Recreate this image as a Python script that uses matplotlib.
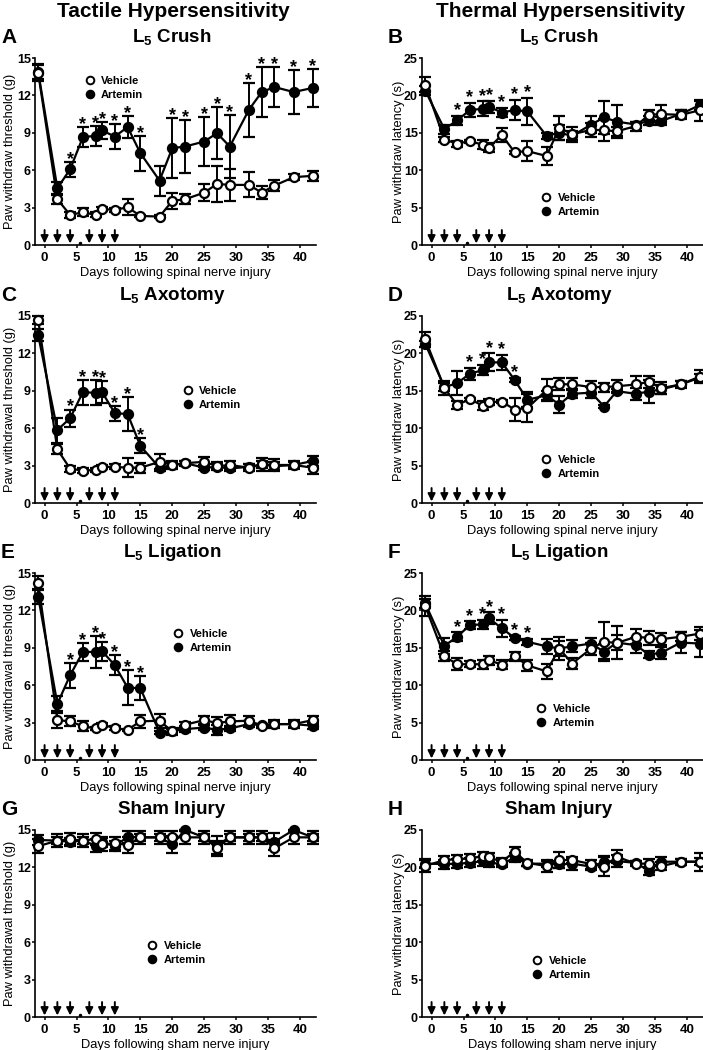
import matplotlib

matplotlib.use("Agg")
import matplotlib.pyplot as plt
from matplotlib.lines import Line2D

plt.rcParams["font.family"] = ["Liberation Sans", "DejaVu Sans"]
plt.rcParams["mathtext.fontset"] = "custom"
plt.rcParams["mathtext.rm"] = "Liberation Sans:bold"
plt.rcParams["mathtext.it"] = "Liberation Sans:bold"
plt.rcParams["mathtext.bf"] = "Liberation Sans:bold"

W, H = 703, 1050

DAYS = [-1, 2, 4, 6, 8, 9, 11, 13, 15, 18, 20, 22, 25, 27, 29, 32, 34, 36, 39, 42]
ARROW_DAYS = [0, 2, 4, 7, 9, 11]
DOT_DAY = 5.5

# A - tactile, L5 crush
A_VEH = [13.8, 3.67, 2.41, 2.63, 2.41, 2.89, 2.81, 3.03, 2.33, 2.28, 3.54, 3.67, 4.2, 4.9, 4.82, 4.82, 4.2, 4.77, 5.44, 5.55]
A_VEH_SEM = [0.65, 0.4, 0.25, 0.3, 0.2, 0.15, 0.15, 0.65, 0.1, 0.1, 0.65, 0.4, 0.7, 1.45, 1.3, 1.0, 0.5, 0.45, 0.25, 0.4]
A_ART = [13.9, 4.55, 6.08, 8.65, 8.76, 9.19, 8.7, 9.46, 7.37, 5.17, 7.77, 7.9, 8.3, 8.97, 7.9, 10.85, 12.27, 12.67, 12.27, 12.6]
A_ART_SEM = [0.6, 0.5, 0.6, 0.8, 0.8, 0.7, 1.0, 0.85, 1.4, 1.2, 2.4, 2.1, 2.0, 2.1, 2.5, 2.15, 2.0, 1.6, 1.8, 1.5]
A_STARS = [4, 6, 8, 9, 11, 13, 15, 20, 22, 25, 27, 29, 32, 34, 36, 39, 42]

# B - thermal, L5 crush
B_VEH = [21.45, 14.1, 13.55, 13.9, 13.4, 13.0, 14.7, 12.4, 12.55, 11.9, 15.7, 14.8, 15.4, 15.35, 15.2, 15.9, 17.4, 17.5, 17.4, 18.0]
B_VEH_SEM = [1.0, 0.3, 0.4, 0.2, 0.6, 0.6, 0.9, 0.2, 1.3, 1.2, 1.6, 1.0, 0.9, 1.5, 0.6, 0.6, 0.7, 1.2, 0.6, 1.4]
B_ART = [20.65, 15.5, 16.65, 18.05, 18.2, 18.5, 17.7, 18.05, 17.85, 14.6, 15.0, 14.6, 16.1, 17.05, 16.5, 16.1, 16.6, 16.6, 17.5, 18.7]
B_ART_SEM = [0.6, 0.6, 0.6, 0.9, 1.0, 0.8, 0.6, 1.4, 1.8, 0.4, 1.0, 0.6, 1.1, 2.2, 2.2, 0.4, 0.6, 0.5, 0.5, 0.6]
B_STARS = [4, 6, 8, 9, 11, 13, 15]

# C - tactile, L5 axotomy
C_VEH = [14.68, 4.3, 2.75, 2.6, 2.65, 2.9, 2.9, 2.83, 2.83, 3.3, 3.05, 3.2, 3.3, 2.95, 3.05, 2.83, 3.1, 3.05, 3.05, 2.83]
C_VEH_SEM = [0.3, 0.4, 0.25, 0.2, 0.15, 0.15, 0.2, 0.75, 0.4, 0.6, 0.3, 0.2, 0.4, 0.3, 0.3, 0.3, 0.5, 0.45, 0.3, 0.5]
C_ART = [13.47, 5.85, 6.8, 8.9, 8.83, 8.9, 7.2, 7.14, 4.58, 2.83, 3.05, 3.2, 2.83, 2.9, 2.77, 2.9, 3.1, 2.95, 3.05, 3.37]
C_ART_SEM = [0.5, 1.0, 0.7, 1.0, 1.0, 0.9, 0.6, 1.35, 0.6, 0.3, 0.2, 0.15, 0.2, 0.2, 0.2, 0.2, 0.3, 0.3, 0.2, 0.4]
C_STARS = [4, 6, 8, 9, 11, 13, 15]

# D - thermal, L5 axotomy
D_VEH = [21.9, 15.4, 13.1, 13.9, 13.0, 13.5, 13.55, 12.5, 12.7, 15.1, 15.9, 15.85, 15.5, 15.5, 15.6, 15.85, 16.2, 15.35, 15.85, 16.9]
D_VEH_SEM = [1.0, 0.9, 0.5, 0.2, 0.6, 0.4, 0.2, 1.6, 1.9, 1.5, 0.8, 0.8, 0.8, 0.6, 0.8, 1.1, 0.8, 0.8, 0.5, 0.9]
D_ART = [21.3, 15.5, 16.0, 17.3, 17.75, 18.8, 18.8, 16.45, 13.8, 14.4, 13.15, 14.6, 14.75, 12.9, 14.95, 14.6, 14.9, 15.2, 15.85, 16.75]
D_ART_SEM = [0.4, 0.5, 1.6, 0.8, 0.7, 1.2, 1.0, 0.3, 1.0, 0.6, 1.1, 0.6, 0.7, 0.2, 0.3, 0.8, 1.5, 0.6, 0.4, 0.5]
D_STARS = [6, 8, 9, 11, 13]

# E - tactile, L5 ligation
E_VEH = [14.2, 3.2, 3.1, 2.7, 2.53, 2.83, 2.56, 2.42, 3.1, 3.15, 2.29, 2.83, 3.2, 2.96, 3.1, 3.15, 2.75, 2.88, 2.88, 3.2]
E_VEH_SEM = [0.55, 0.6, 0.4, 0.4, 0.15, 0.15, 0.15, 0.1, 0.5, 0.55, 0.3, 0.2, 0.3, 0.5, 0.5, 0.4, 0.15, 0.35, 0.3, 0.3]
E_ART = [13.1, 4.5, 6.8, 8.67, 8.67, 8.73, 7.6, 5.8, 5.76, 2.2, 2.34, 2.48, 2.6, 2.42, 2.53, 2.88, 2.8, 2.88, 2.88, 2.75]
E_ART_SEM = [0.6, 0.6, 1.0, 0.7, 1.3, 0.75, 0.8, 1.4, 0.95, 0.1, 0.15, 0.25, 0.2, 0.4, 0.2, 0.25, 0.1, 0.2, 0.2, 0.3]
E_STARS = [4, 6, 8, 9, 11, 13, 15]

# F - thermal, L5 ligation
F_VEH = [20.6, 13.87, 12.8, 12.8, 12.8, 13.33, 12.75, 13.87, 12.65, 11.85, 14.9, 12.9, 14.9, 15.8, 15.65, 16.47, 16.33, 16.16, 16.47, 16.9]
F_VEH_SEM = [1.3, 0.7, 0.8, 0.4, 0.6, 0.6, 0.6, 0.6, 0.7, 1.0, 1.5, 0.7, 0.8, 2.6, 2.2, 1.0, 0.9, 0.8, 0.6, 0.9]
F_ART = [20.96, 15.26, 16.47, 18.04, 18.13, 18.94, 17.6, 16.33, 15.8, 15.2, 14.9, 15.2, 15.57, 14.45, 15.7, 15.35, 14.1, 14.35, 15.7, 15.57]
F_ART_SEM = [0.6, 1.1, 0.6, 0.5, 0.6, 0.8, 1.1, 0.3, 0.4, 1.0, 1.0, 0.8, 0.8, 1.0, 1.0, 1.0, 0.5, 0.8, 1.4, 1.8]
F_STARS = [4, 6, 8, 9, 11, 13, 15]

# G - tactile, sham
G_VEH = [13.7, 14.15, 14.25, 14.15, 14.28, 13.85, 13.93, 13.8, 14.41, 14.41, 14.41, 14.41, 14.41, 13.53, 14.41, 14.41, 14.41, 13.53, 14.41, 14.41]
G_VEH_SEM = [0.55, 0.5, 0.5, 0.5, 0.5, 0.5, 0.5, 0.65, 0.5, 0.5, 0.5, 0.5, 0.5, 0.6, 0.5, 0.5, 0.5, 0.6, 0.5, 0.5]
G_ART = [14.2, 14.15, 14.06, 14.15, 13.75, 14.0, 13.7, 14.45, 14.41, 14.41, 13.85, 15.0, 14.41, 13.8, 14.41, 14.41, 14.41, 14.06, 15.0, 14.41]
G_ART_SEM = [0.4, 0.3, 0.3, 0.3, 0.5, 0.4, 0.4, 0.5, 0.3, 0.3, 0.7, 0.0, 0.3, 0.7, 0.3, 0.3, 0.3, 0.7, 0.0, 0.3]
G_STARS = []

# H - thermal, sham
H_VEH = [20.2, 20.98, 21.1, 21.2, 21.5, 21.34, 20.76, 22.1, 20.6, 20.18, 20.98, 20.98, 20.45, 20.1, 21.43, 20.5, 20.5, 20.18, 20.76, 20.76]
H_VEH_SEM = [0.8, 0.6, 0.6, 0.6, 0.6, 0.6, 0.5, 0.6, 0.4, 0.8, 1.1, 0.4, 0.6, 1.3, 0.9, 0.3, 0.6, 0.5, 0.4, 1.2]
H_ART = [20.5, 20.45, 20.5, 20.6, 20.85, 20.7, 20.4, 21.34, 20.5, 20.5, 20.4, 20.5, 20.1, 20.76, 20.85, 20.6, 19.55, 20.76, 20.76, 20.76]
H_ART_SEM = [0.6, 0.6, 0.6, 0.6, 0.6, 0.6, 0.4, 0.6, 0.3, 0.4, 0.5, 0.8, 0.4, 0.7, 0.8, 0.2, 0.5, 0.6, 0.4, 0.5]
H_STARS = []

SUBTITLES = ["L$_5$ Crush", "L$_5$ Axotomy", "L$_5$ Ligation", "Sham Injury"]
LEFT_YLABELS = ["Paw withdraw threshold (g)", "Paw withdrawal threshold (g)",
                "Paw withdrawal threshold (g)", "Paw withdrawal threshold (g)"]
RIGHT_YLABEL = "Paw withdraw latency (s)"
XLABELS = ["Days following spinal nerve injury"] * 3 + ["Days following sham nerve injury"]

# legend anchor (marker centre of first entry, axes fraction)
LEG_POS = {
    "A": (0.196, 0.866), "B": (0.445, 0.24),
    "C": (0.545, 0.588), "D": (0.445, 0.219),
    "E": (0.512, 0.663), "F": (0.427, 0.262),
    "G": (0.42, 0.369), "H": (0.413, 0.289),
}

PANELS = [
    ("A", A_VEH, A_VEH_SEM, A_ART, A_ART_SEM, A_STARS),
    ("B", B_VEH, B_VEH_SEM, B_ART, B_ART_SEM, B_STARS),
    ("C", C_VEH, C_VEH_SEM, C_ART, C_ART_SEM, C_STARS),
    ("D", D_VEH, D_VEH_SEM, D_ART, D_ART_SEM, D_STARS),
    ("E", E_VEH, E_VEH_SEM, E_ART, E_ART_SEM, E_STARS),
    ("F", F_VEH, F_VEH_SEM, F_ART, F_ART_SEM, F_STARS),
    ("G", G_VEH, G_VEH_SEM, G_ART, G_ART_SEM, G_STARS),
    ("H", H_VEH, H_VEH_SEM, H_ART, H_ART_SEM, H_STARS),
]

ROW_TOPS = [58, 316, 573, 830]
AX_H = 187
COL_LEFT = [35, 422]
AX_W = 281


def fx(x):
    return x / W


def fy(y):
    return 1 - y / H


def draw_series(ax, mean, sem, face):
    cont = ax.errorbar(DAYS, mean, yerr=sem, fmt="-o", color="black", mfc=face, mec="black",
                       ms=6.5, mew=1.6, lw=1.6, elinewidth=1.4, capsize=4, capthick=1.4,
                       zorder=4 if face == "white" else 3)
    for art in cont.get_children():
        art.set_clip_on(False)


def draw_panel(ax, letter, veh, veh_sem, art, art_sem, stars, col, row):
    right = col == 1
    ymax, ystep = (25, 5) if right else (15, 3)
    draw_series(ax, art, art_sem, "black")
    draw_series(ax, veh, veh_sem, "white")

    star_off = 0.5 if right else -1.5
    for d in stars:
        i = DAYS.index(d)
        top = max(art[i] + art_sem[i], veh[i] + veh_sem[i])
        ax.annotate("*", xy=(d, top), xytext=(0, star_off), textcoords="offset points",
                    ha="center", va="baseline", fontsize=13, fontweight="bold")

    for d in ARROW_DAYS:
        ax.annotate("", xy=(d, 0.008), xytext=(d, 0.08),
                    xycoords=("data", "axes fraction"), textcoords=("data", "axes fraction"),
                    arrowprops=dict(arrowstyle="-|>,head_length=0.45,head_width=0.22",
                                    color="black", lw=1.4, shrinkA=0, shrinkB=0))
    ax.plot([DOT_DAY], [0.012], "o", color="black", ms=1.5, transform=ax.get_xaxis_transform())

    ax.set_xlim(-1.5, 42.5)
    ax.set_ylim(0, ymax)
    ax.set_xticks(range(0, 41, 5))
    ax.set_yticks(range(0, ymax + 1, ystep))
    ax.spines["top"].set_visible(False)
    ax.spines["right"].set_visible(False)
    ax.spines["left"].set_linewidth(1.2)
    ax.spines["bottom"].set_linewidth(1.2)
    ax.tick_params(direction="out", length=2.5, width=1.1, labelsize=9)
    ax.tick_params(axis="y", pad=0.5)
    ax.tick_params(axis="x", pad=2.5, labelsize=9.5)
    for lab in ax.get_xticklabels() + ax.get_yticklabels():
        lab.set_fontweight("bold")
    ax.set_xlabel(XLABELS[row], fontsize=9.3, labelpad=2)
    ax.set_ylabel(RIGHT_YLABEL if right else LEFT_YLABELS[row], fontsize=9.3)
    ax.yaxis.set_label_coords(-0.062 if right else -0.066, 0.5)

    handles = [
        Line2D([], [], ls="none", marker="o", mfc="white", mec="black", mew=1.4, ms=5.5),
        Line2D([], [], ls="none", marker="o", mfc="black", mec="black", mew=1.4, ms=5.5),
    ]
    lx, ly = LEG_POS[letter]
    leg = ax.legend(handles, ["Vehicle", "Artemin"], loc="upper left",
                    bbox_to_anchor=(lx - 5 / AX_W, ly + 7 / AX_H), frameon=False,
                    prop={"weight": "bold", "size": 8}, handlelength=0.8, handletextpad=0.6,
                    labelspacing=0.35, borderpad=0, borderaxespad=0)
    leg.set_zorder(5)


def main():
    fig = plt.figure(figsize=(W / 100, H / 100), dpi=100)

    fig.text(fx(173), fy(17), "Tactile Hypersensitivity", ha="center", va="baseline",
             fontsize=15, fontweight="bold")
    fig.text(fx(560), fy(17), "Thermal Hypersensitivity", ha="center", va="baseline",
             fontsize=15, fontweight="bold")

    for k, (letter, veh, veh_sem, art, art_sem, stars) in enumerate(PANELS):
        row, col = divmod(k, 2)
        top = ROW_TOPS[row]
        left = COL_LEFT[col]
        ax = fig.add_axes([fx(left), fy(top + AX_H), fx(AX_W), AX_H / H])
        draw_panel(ax, letter, veh, veh_sem, art, art_sem, stars, col, row)
        fig.text(fx(1 if col == 0 else 388), fy(top - 15), letter, ha="left", va="baseline",
                 fontsize=15, fontweight="bold")
        fig.text(fx(172 if col == 0 else 559), fy(top - 16), SUBTITLES[row], ha="center",
                 va="baseline", fontsize=13.5, fontweight="bold")

    fig.savefig("out.png", dpi=100)
    plt.close(fig)


if __name__ == "__main__":
    main()
